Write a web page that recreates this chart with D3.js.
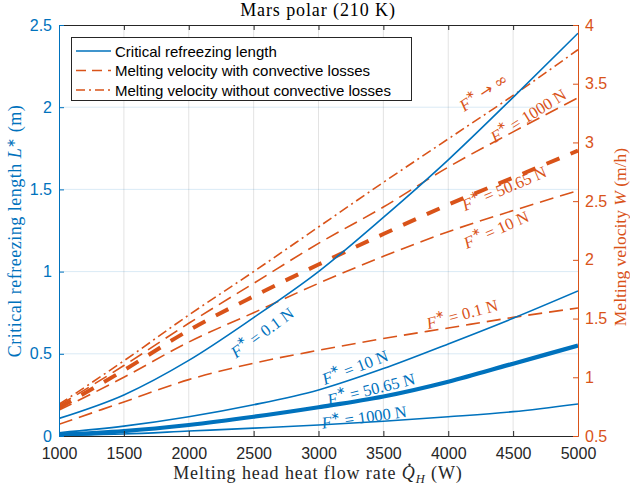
<!DOCTYPE html>
<html>
<head>
<meta charset="utf-8">
<script src="https://cdn.jsdelivr.net/npm/d3@7/dist/d3.min.js"></script>
<style>
  html, body { margin: 0; padding: 0; background: #fff; }
  svg { display: block; }
  .tick text { font-family: "Liberation Sans", Arial, sans-serif; font-size: 16px; }
</style>
</head>
<body>
<svg id="chart" width="630" height="493"></svg>
<script>
// Heat flow rate of the melting head (W)
const heatFlow = [1000, 1500, 2000, 2500, 3000, 3500, 4000, 4500, 5000];

// Critical refreezing length L* (m) for each contact force F*
const refreezeF01   = [0.107, 0.25, 0.46, 0.72, 1.00, 1.33, 1.68, 2.06, 2.45];
const refreezeF10   = [0.02, 0.06, 0.117, 0.19, 0.28, 0.41, 0.56, 0.716, 0.882];
const refreezeF5065 = [0.008, 0.03, 0.067, 0.117, 0.175, 0.24, 0.33, 0.44, 0.55];
const refreezeF1000 = [0.003, 0.012, 0.03, 0.048, 0.067, 0.09, 0.117, 0.148, 0.195];

// Melting velocity W (m/h)
const velocityInf   = [0.77, 1.14, 1.53, 1.90, 2.28, 2.66, 3.03, 3.40, 3.79];
const velocityF1000 = [0.76, 1.10, 1.46, 1.80, 2.14, 2.45, 2.79, 3.09, 3.38];
const velocityF5065 = [0.74, 1.06, 1.40, 1.69, 1.96, 2.22, 2.47, 2.70, 2.93];
const velocityF10   = [0.72, 1.00, 1.30, 1.55, 1.80, 2.03, 2.24, 2.42, 2.59];
const velocityF01   = [0.60, 0.79, 0.98, 1.12, 1.23, 1.33, 1.42, 1.51, 1.59];

// Axis ticks
const xTicks = [1000, 1500, 2000, 2500, 3000, 3500, 4000, 4500, 5000];
const leftTicks = [0, 0.5, 1, 1.5, 2, 2.5];
const rightTicks = [0.5, 1, 1.5, 2, 2.5, 3, 3.5, 4];

const legendLabels = [
  "Critical refreezing length",
  "Melting velocity with convective losses",
  "Melting velocity without convective losses"
];

const BLUE = "#0072BD", ORANGE = "#D95319", DARK = "#262626";
const SERIF = '"Liberation Serif", "Times New Roman", serif';
const SANS = '"Liberation Sans", Arial, sans-serif';

const svg = d3.select("#chart");
const plot = { left: 59, right: 578, top: 25, bottom: 436 };

const x = d3.scaleLinear().domain([1000, 5000]).range([plot.left, plot.right]);
const yL = d3.scaleLinear().domain([0, 2.5]).range([plot.bottom, plot.top]);
const yR = d3.scaleLinear().domain([0.5, 4]).range([plot.bottom, plot.top]);

// Grid
const grid = svg.append("g");
grid.selectAll(".vg").data(xTicks.slice(1, -1)).join("line")
  .attr("x1", d => x(d)).attr("x2", d => x(d))
  .attr("y1", plot.top).attr("y2", plot.bottom)
  .attr("stroke", DARK).attr("stroke-opacity", 0.13).attr("stroke-width", 1);
grid.selectAll(".hg").data(leftTicks.slice(1, -1)).join("line")
  .attr("x1", plot.left).attr("x2", plot.right)
  .attr("y1", d => yL(d)).attr("y2", d => yL(d))
  .attr("stroke", BLUE).attr("stroke-opacity", 0.15).attr("stroke-width", 1);

// Curves
svg.append("clipPath").attr("id", "plotClip").append("rect")
  .attr("x", plot.left).attr("y", plot.top)
  .attr("width", plot.right - plot.left).attr("height", plot.bottom - plot.top);
const curves = svg.append("g").attr("clip-path", "url(#plotClip)");

function drawSeries(values, yScale, color, width, dash) {
  const line = d3.line()
    .x((d, i) => x(heatFlow[i]))
    .y(d => yScale(d))
    .curve(d3.curveMonotoneX);
  curves.append("path")
    .datum(values)
    .attr("d", line)
    .attr("fill", "none")
    .attr("stroke", color)
    .attr("stroke-width", width)
    .attr("stroke-dasharray", dash)
    .attr("stroke-linejoin", "round");
}

drawSeries(velocityF01, yR, ORANGE, 1.6, "14,7");
drawSeries(velocityF10, yR, ORANGE, 1.6, "14,7");
drawSeries(velocityF5065, yR, ORANGE, 4, "14,12");
drawSeries(velocityF1000, yR, ORANGE, 1.6, "14,7");
drawSeries(velocityInf, yR, ORANGE, 1.6, "10,4,2,4");

drawSeries(refreezeF01, yL, BLUE, 1.6, null);
drawSeries(refreezeF10, yL, BLUE, 1.6, null);
drawSeries(refreezeF5065, yL, BLUE, 4.2, null);
drawSeries(refreezeF1000, yL, BLUE, 1.6, null);

// Axes (ticks point inward)
function styleAxis(g, color) {
  g.select(".domain").attr("stroke", color).attr("stroke-width", 1);
  g.selectAll(".tick line").attr("stroke", color);
  g.selectAll(".tick text").attr("fill", color);
}
svg.append("g").attr("transform", `translate(0,${plot.top})`)
  .call(d3.axisTop(x).tickValues(xTicks).tickSize(-5).tickSizeOuter(0).tickFormat(""))
  .call(g => styleAxis(g, DARK));
svg.append("g").attr("transform", `translate(0,${plot.bottom})`)
  .call(d3.axisBottom(x).tickValues(xTicks).tickSize(-5).tickSizeOuter(0).tickPadding(12).tickFormat(d3.format("d")))
  .call(g => styleAxis(g, DARK));
svg.append("g").attr("transform", `translate(${plot.left},0)`)
  .call(d3.axisLeft(yL).tickValues(leftTicks).tickSize(-5).tickSizeOuter(0).tickPadding(7).tickFormat(d3.format("~g")))
  .call(g => styleAxis(g, BLUE));
svg.append("g").attr("transform", `translate(${plot.right},0)`)
  .call(d3.axisRight(yR).tickValues(rightTicks).tickSize(-5).tickSizeOuter(0).tickPadding(7).tickFormat(d3.format("~g")))
  .call(g => styleAxis(g, ORANGE));

// Force labels on the curves: italic F with star superscript
function forceLabel(q, v, yScale, rot, rest, color) {
  const t = svg.append("text")
    .attr("transform", `translate(${x(q)},${yScale(v)}) rotate(${rot})`)
    .attr("text-anchor", "middle")
    .attr("dominant-baseline", "central")
    .attr("font-family", SERIF).attr("font-size", 16.5)
    .attr("fill", color);
  t.append("tspan").attr("font-style", "italic").text("F");
  t.append("tspan").attr("font-size", 11).attr("dy", -6).text("∗");
  if (rest.arrow) {
    t.append("tspan").attr("dy", 6).text(" ");
    t.append("tspan").attr("font-family", '"DejaVu Sans", sans-serif')
      .attr("font-size", 16).text("→");
    t.append("tspan").text(" ");
    t.append("tspan").attr("font-family", '"DejaVu Serif", serif').attr("font-size", 16).text("∞");
  } else {
    t.append("tspan").attr("dy", 6).text(rest);
  }
}
forceLabel(4270, 3.43, yR, -34, { arrow: true }, ORANGE);
forceLabel(4615, 3.23, yR, -32, " = 1000 N", ORANGE);
forceLabel(4430, 2.61, yR, -23, " = 50.65 N", ORANGE);
forceLabel(4368, 2.26, yR, -24, " = 10 N", ORANGE);
forceLabel(4106, 1.54, yR, -15, " = 0.1 N", ORANGE);
forceLabel(2565, 0.63, yL, -36, " = 0.1 N", BLUE);
forceLabel(3281, 0.42, yL, -21, " = 10 N", BLUE);
forceLabel(3405, 0.286, yL, -14, " = 50.65 N", BLUE);
forceLabel(3351, 0.116, yL, -8, " = 1000 N", BLUE);

// Legend
const legend = svg.append("g");
legend.append("rect")
  .attr("x", 71.5).attr("y", 37.5).attr("width", 340).attr("height", 63)
  .attr("fill", "#fff").attr("stroke", DARK).attr("stroke-width", 1);
const legendStyles = [
  { color: BLUE, dash: null },
  { color: ORANGE, dash: "10,6" },
  { color: ORANGE, dash: "9,4,2,4" }
];
legendLabels.forEach((label, i) => {
  const yy = 51 + i * 19.5;
  legend.append("line")
    .attr("x1", 76).attr("x2", 111).attr("y1", yy).attr("y2", yy)
    .attr("stroke", legendStyles[i].color).attr("stroke-width", 1.6)
    .attr("stroke-dasharray", legendStyles[i].dash);
  legend.append("text")
    .attr("x", 115).attr("y", yy).attr("dominant-baseline", "central")
    .attr("font-family", SANS).attr("font-size", 15).attr("fill", "#000")
    .text(label);
});

// Title
svg.append("text")
  .attr("x", 318).attr("y", 16)
  .attr("text-anchor", "middle")
  .attr("font-family", SERIF).attr("font-size", 18).attr("letter-spacing", 0.9)
  .attr("fill", "#000")
  .text("Mars polar (210 K)");

// X label with dotted Q and subscript H
const xl = svg.append("text")
  .attr("x", 318).attr("y", 479)
  .attr("text-anchor", "middle")
  .attr("font-family", SERIF).attr("font-size", 18).attr("letter-spacing", 0.9)
  .attr("fill", DARK);
xl.append("tspan").text("Melting head heat flow rate ");
xl.append("tspan").attr("font-style", "italic").text("Q");
xl.append("tspan").attr("font-style", "italic").attr("font-size", 12.5).attr("dy", 4).text("H");
xl.append("tspan").attr("dy", -4).text(" (W)");
const qIndex = "Melting head heat flow rate ".length;
const qBox = xl.node().getExtentOfChar(qIndex);
svg.append("circle")
  .attr("cx", qBox.x + qBox.width * 0.55).attr("cy", qBox.y + 1.8)
  .attr("r", 1.2).attr("fill", DARK);

// Left y label
const yl = svg.append("text")
  .attr("transform", "translate(21,231) rotate(-90)")
  .attr("text-anchor", "middle")
  .attr("font-family", SERIF).attr("font-size", 18).attr("letter-spacing", 0.5)
  .attr("fill", BLUE);
yl.append("tspan").text("Critical refreezing length ");
yl.append("tspan").attr("font-style", "italic").text("L");
yl.append("tspan").attr("font-size", 11.5).attr("dy", -6).text("∗");
yl.append("tspan").attr("dy", 6).text(" (m)");

// Right y label
const yr = svg.append("text")
  .attr("transform", "translate(626,237) rotate(-90)")
  .attr("text-anchor", "middle")
  .attr("font-family", SERIF).attr("font-size", 17.5).attr("fill", ORANGE);
yr.append("tspan").text("Melting velocity ");
yr.append("tspan").attr("font-style", "italic").text("W");
yr.append("tspan").text(" (m/h)");
</script>
</body>
</html>
